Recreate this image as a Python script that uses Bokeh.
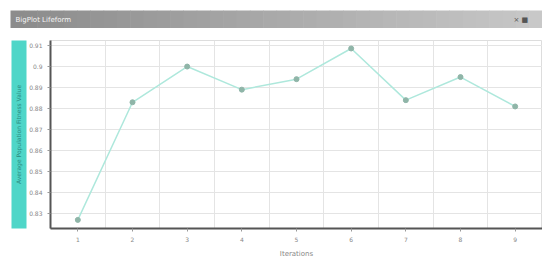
from bokeh.plotting import figure
from bokeh.models import Range1d, FixedTicker, LinearAxis
from bokeh.layouts import column
from bokeh.core.properties import value
from bokeh.embed import file_html
from bokeh.resources import INLINE

# ---- data ----
iterations = [1, 2, 3, 4, 5, 6, 7, 8, 9]
fitness = [0.827, 0.883, 0.900, 0.889, 0.894, 0.9086, 0.884, 0.895, 0.881]
y_tick_values = [0.83, 0.84, 0.85, 0.86, 0.87, 0.88, 0.89, 0.90, 0.91]
x_tick_values = [1, 2, 3, 4, 5, 6, 7, 8, 9]
title_text = "BigPlot Lifeform"
x_label = "Iterations"
y_label = "Average Population Fitness Value"

W = 542
BAR_H = 28

# ---- window title bar (its own small figure, pixel coordinates) ----
bar = figure(width=W, height=BAR_H, output_backend="svg", toolbar_location=None,
             x_range=Range1d(0, W), y_range=Range1d(BAR_H, 0),
             min_border=0, min_border_left=0, min_border_right=0,
             min_border_top=0, min_border_bottom=0)
bar.frame_align = False
bar.axis.visible = False
bar.grid.visible = False
bar.outline_line_color = None
bar.background_fill_color = "white"
bar.border_fill_color = "white"
n = 40
seg_l, seg_r, seg_c = [], [], []
for i in range(n):
    a = 10 + (W - 10) * i / n
    b = 10 + (W - 10) * (i + 1) / n
    g = int(0x8c + (0xc8 - 0x8c) * i / (n - 1))
    seg_l.append(a)
    seg_r.append(b + 0.6)
    seg_c.append("#%02x%02x%02x" % (g, g, g))
bar.quad(left=seg_l, right=seg_r, top=[10] * n, bottom=[28] * n,
         fill_color=seg_c, line_color=None)
bar.text(x=[15], y=[19], text=[title_text], text_font=value("DejaVu Sans"),
         text_font_size="7px", text_color="#f4f4f4", text_baseline="middle")
bar.text(x=[513], y=[19], text=["× ■"], text_font=value("DejaVu Sans"),
         text_font_size="7px", text_color="#555555", text_baseline="middle")

# ---- main chart ----
p = figure(width=W, height=273 - BAR_H, output_backend="svg", toolbar_location=None,
           x_range=Range1d(0.5, 9.5), y_range=Range1d(0.8229, 0.9124),
           min_border_left=50, min_border_right=0, min_border_top=40 - BAR_H,
           min_border_bottom=273 - 228)
p.frame_align = False

p.background_fill_color = "white"
p.border_fill_color = "white"
p.outline_line_color = "#dddddd"

p.line(iterations, fitness, line_color="#aee8dc", line_width=1.5)
p.scatter(iterations, fitness, size=5, fill_color="#8fb5a8", line_color="#8fb5a8")

p.xaxis.ticker = FixedTicker(ticks=x_tick_values)
p.yaxis.ticker = FixedTicker(ticks=y_tick_values)
p.xgrid.ticker = FixedTicker(ticks=[1.5, 2.5, 3.5, 4.5, 5.5, 6.5, 7.5, 8.5])
p.ygrid.ticker = FixedTicker(ticks=y_tick_values)
p.xgrid.grid_line_color = "#e4e4e4"
p.ygrid.grid_line_color = "#e4e4e4"

for ax in (p.xaxis[0], p.yaxis[0]):
    ax.axis_line_color = "#555555"
    ax.axis_line_width = 2
    ax.major_tick_line_color = "#999999"
    ax.minor_tick_line_color = None
    ax.major_tick_in = 0
    ax.major_tick_out = 3
    ax.major_label_text_font = "DejaVu Sans"
    ax.major_label_text_font_size = "6px"
    ax.major_label_text_color = "#888888"

p.xaxis.axis_label = x_label
p.xaxis.axis_label_text_font = "DejaVu Sans"
p.xaxis.axis_label_text_font_size = "7px"
p.xaxis.axis_label_text_font_style = "normal"
p.xaxis.axis_label_text_color = "#888888"
p.xaxis.axis_label_standoff = 5

label_axis = LinearAxis(ticker=FixedTicker(ticks=[]), axis_label=y_label,
                        axis_label_text_font="DejaVu Sans", axis_label_text_font_size="6px",
                        axis_label_text_font_style="normal", axis_label_text_color="#2a8a80",
                        axis_label_standoff=5, axis_line_color=None,
                        major_tick_line_color=None, minor_tick_line_color=None,
                        major_label_text_font_size="0px")
label_axis.background_fill_color = "#4fd6c8"
p.add_layout(label_axis, "left")

layout = column(bar, p, spacing=0)
open("out.html", "w").write(file_html(layout, INLINE))
